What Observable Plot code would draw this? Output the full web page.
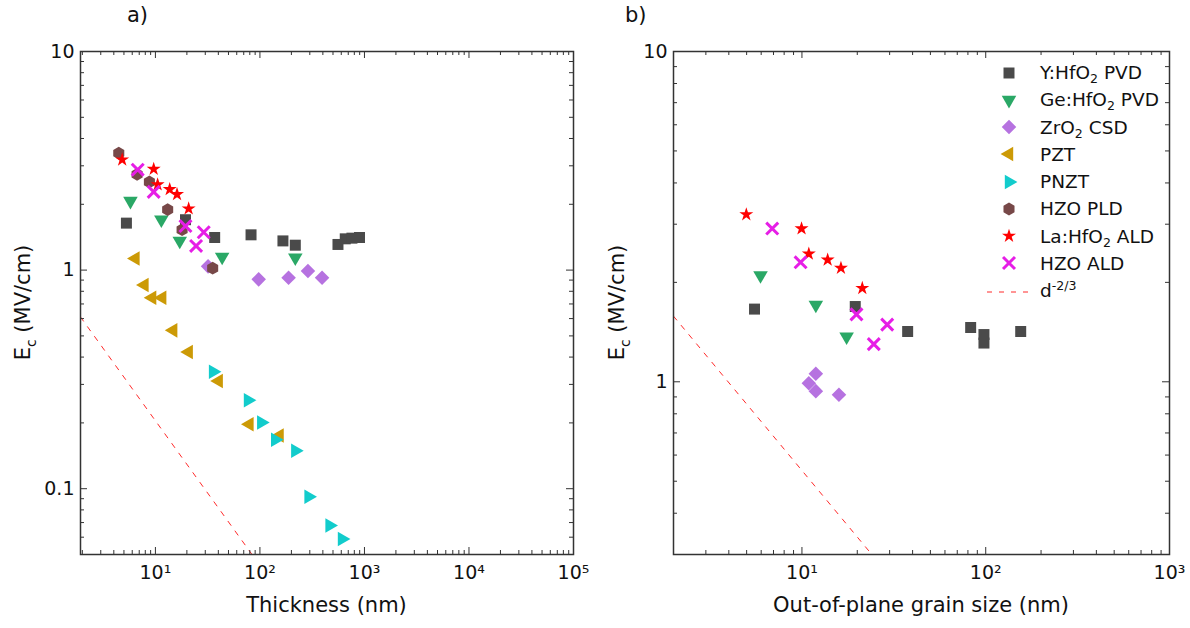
<!DOCTYPE html>
<html><head><meta charset="utf-8">
<script src="https://cdn.jsdelivr.net/npm/d3@7"></script>
<script src="https://cdn.jsdelivr.net/npm/@observablehq/plot@0.6"></script>
<style>
body{margin:0;background:#fff;font-family:"DejaVu Sans",sans-serif;}
#wrap{position:relative;width:1190px;height:628px;overflow:hidden;background:#fff;}
.panel{position:absolute;top:0;}
.plab{position:absolute;font-size:21px;color:#111;line-height:1;}
#legend{position:absolute;left:985px;top:59px;font-size:18.5px;color:#111;}
.row{display:flex;align-items:center;height:27.25px;white-space:nowrap;}
.row svg{flex:none;}
.row span{margin-left:7px;}
sub{font-size:0.68em;vertical-align:-0.35em;line-height:0;}
sup{font-size:0.68em;vertical-align:0.55em;line-height:0;}
</style></head><body>
<div id="wrap">
  <div class="panel" id="pa" style="left:0"></div>
  <div class="panel" id="pb" style="left:590px"></div>
  <div class="plab" style="left:127px;top:5px">a)</div>
  <div class="plab" style="left:625px;top:5px">b)</div>
  <div id="legend"></div>
</div>
<script>
// ---------- series ----------
const seriesNames = ["Y:HfO2 PVD","Ge:HfO2 PVD","ZrO2 CSD","PZT","PNZT","HZO PLD","La:HfO2 ALD","HZO ALD"];
const lineName = "d-2/3";

// ---------- panel a: Ec (MV/cm) vs thickness (nm) ----------
const aYHfO2X = [5.28, 19.4, 36.9, 82.2, 166, 218, 558, 655, 759, 897];
const aYHfO2Y = [1.64, 1.70, 1.41, 1.45, 1.36, 1.30, 1.31, 1.39, 1.40, 1.41];
const aGeHfO2X = [5.77, 11.4, 17.1, 43.5, 218];
const aGeHfO2Y = [2.07, 1.70, 1.36, 1.15, 1.14];
const aZrO2X = [31.9, 97.3, 188, 288, 393];
const aZrO2Y = [1.04, 0.907, 0.922, 0.99, 0.922];
const aPZTX = [6.44, 7.85, 9.30, 11.6, 14.8, 20.8, 40.3, 79.3, 154];
const aPZTY = [1.13, 0.854, 0.747, 0.747, 0.530, 0.422, 0.311, 0.197, 0.175];
const aPNZTX = [35.6, 76.9, 103, 140, 218, 292, 464, 610];
const aPNZTY = [0.343, 0.254, 0.201, 0.1675, 0.149, 0.0919, 0.0678, 0.0589];
const aHZOPLDX = [4.46, 6.68, 8.76, 13.1, 18.0, 35.3];
const aHZOPLDY = [3.43, 2.74, 2.53, 1.89, 1.53, 1.02];
const aLaHfO2X = [4.81, 9.63, 10.5, 13.7, 16.1, 20.8];
const aLaHfO2Y = [3.20, 2.90, 2.46, 2.34, 2.22, 1.91];
const aHZOALDX = [6.77, 9.63, 19.4, 29.0, 24.5];
const aHZOALDY = [2.88, 2.28, 1.59, 1.49, 1.29];
const aLineX = [1.92, 84];
const aLineY = [0.61, 0.05];

// ---------- panel b: Ec (MV/cm) vs out-of-plane grain size (nm) ----------
const bYHfO2X = [5.52, 19.5, 37.6, 82.8, 97.8, 97.8, 155];
const bYHfO2Y = [1.66, 1.69, 1.42, 1.46, 1.39, 1.31, 1.42];
const bGeHfO2X = [5.95, 11.9, 17.5];
const bGeHfO2Y = [2.10, 1.71, 1.37];
const bZrO2X = [10.9, 11.9, 11.9, 15.9];
const bZrO2Y = [0.99, 1.057, 0.937, 0.913];
const bLaHfO2X = [4.98, 9.95, 10.9, 13.8, 16.3, 21.3];
const bLaHfO2Y = [3.21, 2.91, 2.44, 2.34, 2.21, 1.92];
const bHZOALDX = [6.89, 9.83, 19.8, 29.1, 24.6];
const bHZOALDY = [2.91, 2.30, 1.60, 1.49, 1.30];
const bLineX = [2, 24];
const bLineY = [1.58, 0.3];

// ---------- axes ----------
const aXMajor = [10, 100, 1000, 10000, 100000];
const aYMajor = [0.1, 1, 10];
const bXMajor = [10, 100, 1000];
const bYMajor = [1, 10];
const aXTitle = "Thickness (nm)";
const bXTitle = "Out-of-plane grain size (nm)";

// ---------- styles ----------
const S3 = Math.sqrt(3);
function poly(pts){return {draw(ctx,size){const p=pts(size);ctx.moveTo(p[0][0],p[0][1]);for(let i=1;i<p.length;i++)ctx.lineTo(p[i][0],p[i][1]);ctx.closePath();}};}
function triR(size){return 2*Math.sqrt(size/(3*S3));}
const triDown = poly(s=>{const R=triR(s);return [[0,R],[-R*S3/2,-R/2],[R*S3/2,-R/2]];});
const triLeft = poly(s=>{const R=triR(s);return [[-R,0],[R/2,-R*S3/2],[R/2,R*S3/2]];});
const triRight = poly(s=>{const R=triR(s);return [[R,0],[-R/2,-R*S3/2],[-R/2,R*S3/2]];});
const diamond = poly(s=>{const h=Math.sqrt(s)/Math.SQRT2;return [[0,-h],[h,0],[0,h],[-h,0]];});
const hexagon = poly(s=>{const R=Math.sqrt(2*s/(3*S3));return d3.range(6).map(k=>[R*Math.cos(Math.PI/6+k*Math.PI/3),R*Math.sin(Math.PI/6+k*Math.PI/3)]);});

const styles = {
  "Y:HfO2 PVD": {color:"#4a4a4a", sym:"square", r:6.2, fill:true},
  "Ge:HfO2 PVD": {color:"#2aa866", sym:triDown, r:5.4, fill:true},
  "ZrO2 CSD": {color:"#b672e0", sym:diamond, r:5.8, fill:true},
  "PZT": {color:"#cc9a06", sym:triLeft, r:5.4, fill:true},
  "PNZT": {color:"#12cccc", sym:triRight, r:5.4, fill:true},
  "HZO PLD": {color:"#774848", sym:hexagon, r:5.8, fill:true},
  "La:HfO2 ALD": {color:"#ff0000", sym:"star", r:4.4, fill:true},
  "HZO ALD": {color:"#e61ee6", sym:"times", r:5.5, fill:false, sw:3}
};
const lineColor = "#ff2a2a";
const dash = "5,7";
const FS = 19;      // tick label font size
const TFS = 21;     // axis title font size

const pts = (xs, ys) => xs.map((x,i)=>({x, y: ys[i]}));
function minors(lo, hi){const out=[];for(let e=Math.floor(Math.log10(lo));e<=Math.ceil(Math.log10(hi));e++){for(let m=2;m<=9;m++){const v=m*Math.pow(10,e);if(v>lo*1.001&&v<hi*0.999)out.push(+v.toPrecision(3));}}return out;}
const supDigits = {"0":"⁰","1":"¹","2":"²","3":"³","4":"⁴","5":"⁵","6":"⁶","7":"⁷","8":"⁸","9":"⁹"};
const supFmt = d => "10" + String(Math.round(Math.log10(d))).split("").map(c=>supDigits[c]).join("");

function makePanel(cfg){
  const {width, ml, mr, xDomain, yDomain, xMajor, yMajor, series, line} = cfg;
  const H=628, mt=51, mb=74, fh=H-mt-mb, fw=width-ml-mr;
  const xMinor = minors(xDomain[0], xDomain[1]), yMinor = minors(yDomain[0], yDomain[1]);
  const tk = "#333";
  const marks = [
    Plot.line(line, {x:"x", y:"y", stroke:lineColor, strokeWidth:1, strokeDasharray:dash, clip:true}),
    ...series.map(([name, data]) => {const s=styles[name];
      return Plot.dot(data, {x:"x", y:"y", symbol:s.sym, r:s.r, fill:s.fill?s.color:"none", stroke:s.fill?"none":s.color, strokeWidth:s.sw||1});}),
    Plot.ruleX(xMajor, {x:d=>d, insetTop:fh-7, stroke:tk}),
    Plot.ruleX(xMajor, {x:d=>d, insetBottom:fh-7, stroke:tk}),
    Plot.ruleX(xMinor, {x:d=>d, insetTop:fh-4, stroke:tk}),
    Plot.ruleX(xMinor, {x:d=>d, insetBottom:fh-4, stroke:tk}),
    Plot.ruleY(yMajor, {y:d=>d, insetRight:fw-7, stroke:tk}),
    Plot.ruleY(yMajor, {y:d=>d, insetLeft:fw-7, stroke:tk}),
    Plot.ruleY(yMinor, {y:d=>d, insetRight:fw-4, stroke:tk}),
    Plot.ruleY(yMinor, {y:d=>d, insetLeft:fw-4, stroke:tk}),
    Plot.axisX({anchor:"bottom", ticks:xMajor, tickSize:0, tickPadding:11, tickFormat:supFmt, label:null, fontSize:FS}),
    Plot.axisY({anchor:"left", ticks:yMajor, tickSize:0, tickPadding:6, tickFormat:d=>String(d), label:null, fontSize:FS}),
    Plot.frame({stroke:"#333", strokeWidth:1.5})
  ];
  const svg = Plot.plot({width, height:H, marginLeft:ml, marginRight:mr, marginTop:mt, marginBottom:mb,
    x:{type:"log", domain:xDomain}, y:{type:"log", domain:yDomain},
    style:{fontFamily:"DejaVu Sans, sans-serif", fontSize:FS+"px", color:"#111", background:"#fff", overflow:"visible"},
    marks});
  const sel = d3.select(svg);
  sel.append("text").attr("x", ml+fw/2).attr("y", H-16).attr("text-anchor","middle")
    .attr("font-size",TFS).attr("fill","#111").text(cfg.xTitle);
  const t = sel.append("text").attr("transform",`translate(${cfg.yTitleX},${mt+fh/2}) rotate(-90)`)
    .attr("text-anchor","middle").attr("font-size",TFS).attr("fill","#111");
  t.append("tspan").text("E");
  t.append("tspan").attr("dy",6).attr("font-size",14).text("c");
  t.append("tspan").attr("dy",-6).text(" (MV/cm)");
  return svg;
}

document.getElementById("pa").append(makePanel({
  width:590, ml:80, mr:17, xDomain:[1.92, 100000], yDomain:[0.05, 10],
  xMajor:aXMajor, yMajor:aYMajor, xTitle:aXTitle, yTitleX:30,
  series:[["Y:HfO2 PVD",pts(aYHfO2X,aYHfO2Y)],["Ge:HfO2 PVD",pts(aGeHfO2X,aGeHfO2Y)],["ZrO2 CSD",pts(aZrO2X,aZrO2Y)],
    ["PZT",pts(aPZTX,aPZTY)],["PNZT",pts(aPNZTX,aPNZTY)],["HZO PLD",pts(aHZOPLDX,aHZOPLDY)],
    ["La:HfO2 ALD",pts(aLaHfO2X,aLaHfO2Y)],["HZO ALD",pts(aHZOALDX,aHZOALDY)]],
  line:pts(aLineX,aLineY)
}));
document.getElementById("pb").append(makePanel({
  width:600, ml:83, mr:21, xDomain:[2, 1000], yDomain:[0.3, 10],
  xMajor:bXMajor, yMajor:bYMajor, xTitle:bXTitle, yTitleX:34,
  series:[["Y:HfO2 PVD",pts(bYHfO2X,bYHfO2Y)],["Ge:HfO2 PVD",pts(bGeHfO2X,bGeHfO2Y)],["ZrO2 CSD",pts(bZrO2X,bZrO2Y)],
    ["La:HfO2 ALD",pts(bLaHfO2X,bLaHfO2Y)],["HZO ALD",pts(bHZOALDX,bHZOALDY)]],
  line:pts(bLineX,bLineY)
}));

// ---------- legend ----------
const leg = d3.select("#legend");
seriesNames.forEach(name => {
  const s = styles[name];
  const row = leg.append("div").attr("class","row");
  const sv = row.append("svg").attr("width",48).attr("height",20);
  sv.append("path").attr("transform","translate(24,10)")
    .attr("d", d3.symbol(typeof s.sym === "string" ? {square:d3.symbolSquare, star:d3.symbolStar, times:d3.symbolTimes}[s.sym] : s.sym, Math.PI*s.r*s.r)())
    .attr("fill", s.fill?s.color:"none").attr("stroke", s.fill?"none":s.color).attr("stroke-width", s.sw||1);
  row.append("span").html(name.replace(/O2/g,"O<sub>2</sub>"));
});
{
  const row = leg.append("div").attr("class","row");
  const sv = row.append("svg").attr("width",48).attr("height",20);
  sv.append("line").attr("x1",2).attr("x2",46).attr("y1",11).attr("y2",11)
    .attr("stroke",lineColor).attr("stroke-width",1).attr("stroke-dasharray",dash);
  row.append("span").html(lineName.replace("d-2/3","d<sup>-2/3</sup>"));
}
</script>
</body></html>
